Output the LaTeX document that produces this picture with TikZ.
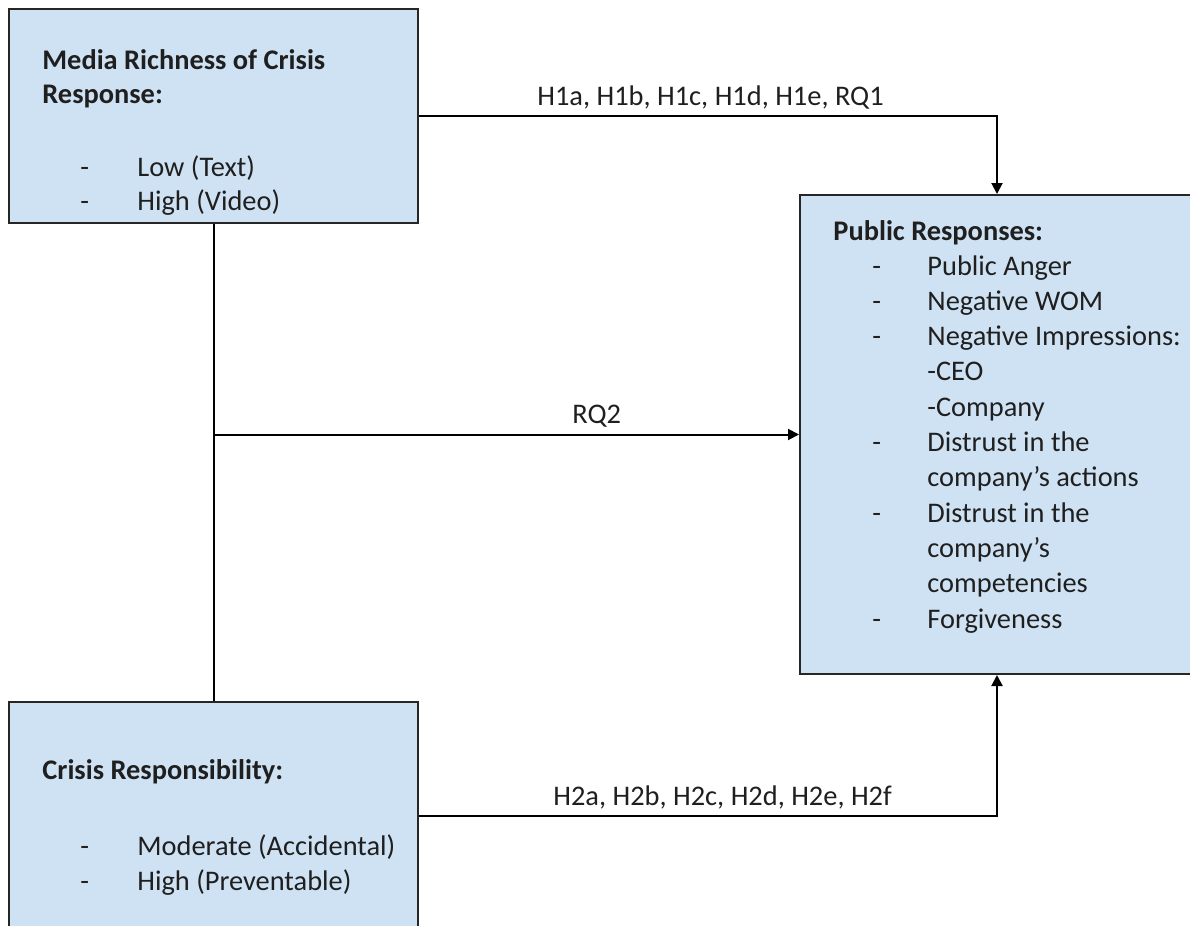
\documentclass[tikz,border=0pt]{standalone}
\usepackage{fontspec}
\setmainfont{Carlito}
\usetikzlibrary{arrows.meta}
\definecolor{boxfill}{HTML}{CFE2F3}
\definecolor{boxline}{HTML}{262626}
\tikzset{
  box/.style={draw=boxline, line width=1pt, fill=boxfill, rectangle, inner sep=0pt},
  txt/.style={anchor=base west, inner sep=0pt, font=\fontsize{14.2}{17}\selectfont, text=black!88},
  btxt/.style={txt, font=\fontsize{14.2}{17}\selectfont\bfseries},
  conn/.style={line width=1pt, draw=black},
  arr/.style={conn, -{Triangle[length=5.5pt,width=5.5pt]}}
}
\begin{document}
\begin{tikzpicture}[x=0.5pt,y=-0.5pt]
\useasboundingbox (0,0) rectangle (1190,926);
\clip (0,0) rectangle (1190,926);
% boxes
\node[box, minimum width=204.5pt, minimum height=107pt] (A) at (213.5,116) {};
\node[box, minimum width=197pt, minimum height=239.5pt] (B) at (997,434.5) {};
\node[box, minimum width=204.5pt, minimum height=114pt] (C) at (213.5,816) {};
% junction
\coordinate (J) at (213.5,434.5);
% connectors
\draw[conn] (A.south) -- (C.north);
\draw[arr] (A.east) -| (B.north);
\draw[arr] (J) -- (B.west);
\draw[arr] (C.east) -| (B.south);
% connector labels
\node[txt] (l1) at (537,105) {H1a, H1b, H1c, H1d, H1e, RQ1};
\node[txt] (l2) at (572,423) {RQ2};
\node[txt] (l3) at (553,805) {H2a, H2b, H2c, H2d, H2e, H2f};
% box A text
\node[btxt] (a1) at (42,69) {Media Richness of Crisis};
\node[btxt] (a2) at (42,103) {Response:};
\node[txt] (a3d) at (80,176) {-};
\node[txt] (a3) at (137,176) {Low (Text)};
\node[txt] (a4d) at (80,210) {-};
\node[txt] (a4) at (137,210) {High (Video)};
% box B text
\node[btxt] (b0) at (833,240) {Public Responses:};
\node[txt] (b1d) at (872,275) {-};
\node[txt] (b1) at (927,275) {Public Anger};
\node[txt] (b2d) at (872,310.3) {-};
\node[txt] (b2) at (927,310.3) {Negative WOM};
\node[txt] (b3d) at (872,345.6) {-};
\node[txt] (b3) at (927,345.6) {Negative Impressions:};
\node[txt] (b4) at (927,380.9) {-CEO};
\node[txt] (b5) at (927,416.2) {-Company};
\node[txt] (b6d) at (872,451.5) {-};
\node[txt] (b6) at (927,451.5) {Distrust in the};
\node[txt] (b7) at (927,486.8) {company’s actions};
\node[txt] (b8d) at (872,522.1) {-};
\node[txt] (b8) at (927,522.1) {Distrust in the};
\node[txt] (b9) at (927,557.4) {company’s};
\node[txt] (b10) at (927,592.7) {competencies};
\node[txt] (b11d) at (872,628) {-};
\node[txt] (b11) at (927,628) {Forgiveness};
% box C text
\node[btxt] (c1) at (42,779) {Crisis Responsibility:};
\node[txt] (c2d) at (80,855) {-};
\node[txt] (c2) at (137,855) {Moderate (Accidental)};
\node[txt] (c3d) at (80,890) {-};
\node[txt] (c3) at (137,890) {High (Preventable)};
\end{tikzpicture}
\end{document}
